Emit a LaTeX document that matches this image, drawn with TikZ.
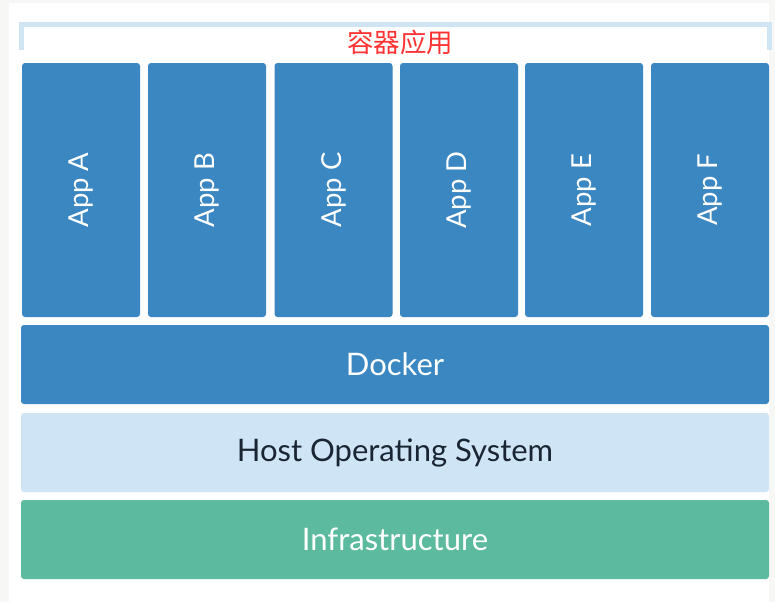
\documentclass[tikz,border=0pt]{standalone}
\usepackage{fontspec}
\setmainfont{Lato}
\newfontfamily\cjk{Noto Sans CJK SC}
\definecolor{appblue}{HTML}{3A87C2}
\definecolor{hostblue}{HTML}{CFE5F6}
\definecolor{infragreen}{HTML}{5CBB9E}
\definecolor{bracketblue}{HTML}{CFE5F3}
\definecolor{labelred}{HTML}{FF3333}
\definecolor{darktext}{HTML}{1A2533}
\definecolor{edgegray}{HTML}{F7F7F5}
\begin{document}
\begin{tikzpicture}[x=1pt,y=-1pt,
  layer/.style={rounded corners=3pt, inner sep=0pt, outer sep=0pt},
  appbox/.style={layer, fill=appblue, minimum width=118pt, minimum height=254pt},
  wide/.style={layer, minimum width=748pt, minimum height=79pt},
  widetext/.style={font=\fontsize{31}{36}\selectfont},
  applabel/.style={text=white, font=\fontsize{27.5}{32}\selectfont, rotate=90}]
\fill[edgegray] (0,0) rectangle (775,602);
\fill[white] (9,3) rectangle (769,602);
\useasboundingbox (0,0) rectangle (775,602);
% bracket
\draw[bracketblue, line width=5pt] (21,50) -- (21,24.5) -- (769.5,24.5) -- (769.5,50);
\node[text=labelred, font=\cjk\fontsize{26.5}{30}\selectfont] (title) at (400,42) {容器应用};
% apps
\foreach \n/\x/\l in {a/81/App A, b/207/App B, c/333.5/App C, d/459/App D, e/584/App E, f/710/App F}{
  \node[appbox] (app\n) at (\x,190) {};
  \node[applabel] (lbl\n) at (\x,190) {\l};
}
\node[wide, widetext, fill=appblue, text=white] (docker) at (395,364.5) {Docker};
\node[wide, widetext, fill=hostblue, text=darktext] (host) at (395,452.5) {Host Operating System};
\node[wide, widetext, fill=infragreen, text=white] (infra) at (395,539.5) {Infrastructure};
\end{tikzpicture}
\end{document}
